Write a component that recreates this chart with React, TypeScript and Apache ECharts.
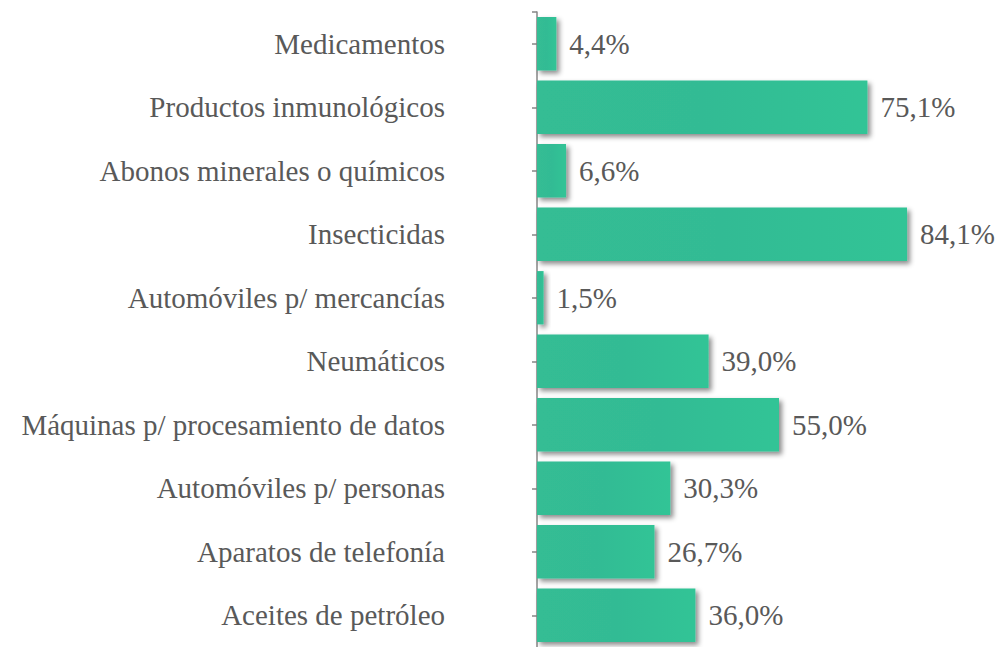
import React, { useEffect, useRef } from "react";
import * as echarts from "echarts";

const categories = [
  "Medicamentos",
  "Productos inmunológicos",
  "Abonos minerales o químicos",
  "Insecticidas",
  "Automóviles p/ mercancías",
  "Neumáticos",
  "Máquinas p/ procesamiento de datos",
  "Automóviles p/ personas",
  "Aparatos de telefonía",
  "Aceites de petróleo",
];
const values = [4.4, 75.1, 6.6, 84.1, 1.5, 39.0, 55.0, 30.3, 26.7, 36.0];

const FONT = "Liberation Serif";

export default function App() {
  const ref = useRef<HTMLDivElement>(null);
  useEffect(() => {
    if (!ref.current) return;
    const chart = echarts.init(ref.current, undefined, { renderer: "svg" });
    const gridLeft = 537;
    const gridTop = 12;
    chart.setOption({
      animation: false,
      backgroundColor: "#ffffff",
      textStyle: { fontFamily: FONT },
      grid: { left: gridLeft, top: gridTop, width: 440, height: 646, containLabel: false },
      xAxis: {
        type: "value",
        min: 0,
        max: 100,
        show: false,
      },
      yAxis: {
        type: "category",
        data: categories,
        inverse: true,
        axisLine: { show: true, lineStyle: { color: "#868686", width: 1.5 } },
        axisTick: { show: true, alignWithLabel: true, length: 5, lineStyle: { color: "#868686", width: 1.5 } },
        axisLabel: {
          margin: 92,
          color: "#595959",
          fontFamily: FONT,
          fontSize: 29,
        },
        splitLine: { show: false },
      },
      graphic: [
        {
          type: "line",
          shape: { x1: gridLeft - 5, y1: gridTop, x2: gridLeft, y2: gridTop },
          style: { stroke: "#868686", lineWidth: 1.5 },
        },
      ],
      series: [
        {
          type: "bar",
          data: values,
          barCategoryGap: "16%",
          itemStyle: {
            color: new echarts.graphic.LinearGradient(0, 0, 1, 0, [
              { offset: 0, color: "#34bd94" },
              { offset: 0.5, color: "#33bb94" },
              { offset: 1, color: "#30c496" },
            ]),
            shadowColor: "rgba(0,0,0,0.45)",
            shadowBlur: 5,
            shadowOffsetX: 3,
            shadowOffsetY: 3,
          },
          label: {
            show: true,
            position: "right",
            distance: 13,
            color: "#595959",
            fontFamily: FONT,
            fontSize: 29,
            formatter: (p: any) => p.value.toFixed(1).replace(".", ",") + "%",
          },
        },
      ],
    });
    return () => chart.dispose();
  }, []);
  return (
    <div
      ref={ref}
      style={{ position: "fixed", left: 0, top: 0, width: 1008, height: 647 }}
    />
  );
}
